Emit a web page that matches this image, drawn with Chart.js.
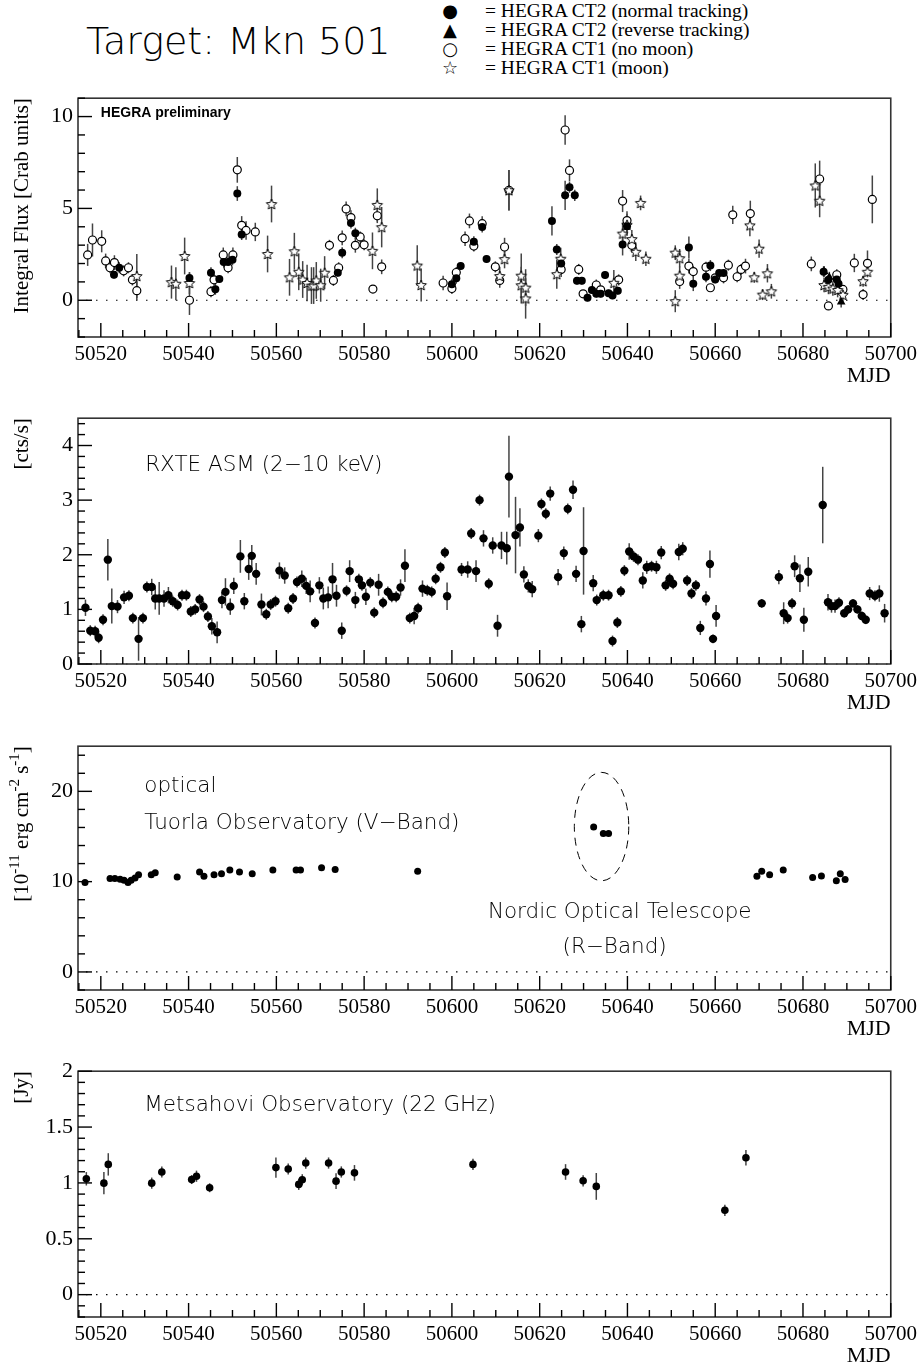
<!DOCTYPE html>
<html>
<head>
<meta charset="utf-8">
<script src="https://cdn.jsdelivr.net/npm/chart.js@4.4.1/dist/chart.umd.min.js"></script>
<style>
  body { margin: 0; background: #fff; width: 922px; height: 1364px; position: relative; overflow: hidden; }
  canvas { position: absolute; left: 0; }
  #title { position: absolute; left: 86px; top: 22px; font: 200 38px "DejaVu Sans"; line-height: 38px; white-space: nowrap; }
  .leg { position: absolute; left: 437px; font: 19.5px "Liberation Serif"; line-height: 20px; white-space: nowrap; }
  .sym { display: inline-block; width: 26px; text-align: center; margin-right: 22px; font-family: "DejaVu Sans"; font-size: 18px; }
</style>
</head>
<body>
<div id="title">Target: Mkn 501</div>
<div class="leg" style="top:1px"><span class="sym">●</span>= HEGRA CT2 (normal tracking)</div>
<div class="leg" style="top:20px"><span class="sym">▲</span>= HEGRA CT2 (reverse tracking)</div>
<div class="leg" style="top:39px"><span class="sym">○</span>= HEGRA CT1 (no moon)</div>
<div class="leg" style="top:58px"><span class="sym">☆</span>= HEGRA CT1 (moon)</div>

<canvas id="c1" width="922" height="310" style="top:80px"></canvas>
<canvas id="c2" width="922" height="315" style="top:400px"></canvas>
<canvas id="c3" width="922" height="312" style="top:728px"></canvas>
<canvas id="c4" width="922" height="311" style="top:1053px"></canvas>

<script>
// ---------- data ----------
const xTickValues = [50520, 50540, 50560, 50580, 50600, 50620, 50640, 50660, 50680, 50700];

// HEGRA CT2, normal tracking
const ct2Mjd  = [50523.0, 50524.2, 50540.2, 50545.1, 50546.1, 50547.0, 50548.0, 50549.0, 50550.0, 50551.1,
                 50552.1, 50574.0, 50575.0, 50577.0, 50578.0, 50600.0, 50601.0, 50602.0, 50605.0, 50606.9,
                 50607.9, 50622.8, 50623.9, 50624.9, 50625.8, 50626.8, 50628.0, 50628.5, 50629.6, 50630.9,
                 50631.9, 50632.9, 50633.9, 50634.9, 50635.7, 50636.6, 50637.8, 50638.9, 50639.9, 50654.0,
                 50655.0, 50657.9, 50658.9, 50660.0, 50660.9, 50661.9, 50684.7, 50685.8, 50687.7, 50688.1];
const ct2Flux = [1.39, 1.77, 1.21, 1.50, 0.60, 1.16, 2.08, 2.08, 2.20, 5.81,
                 3.58, 1.50, 2.59, 4.20, 3.65, 0.87, 1.20, 1.86, 3.19, 3.99,
                 2.24, 4.32, 2.76, 2.00, 5.71, 6.15, 5.71, 1.06, 1.06, 0.14,
                 0.56, 0.35, 0.35, 1.37, 0.38, 0.26, 0.52, 3.04, 4.03, 2.87,
                 0.90, 1.28, 1.89, 1.13, 1.49, 1.49, 1.55, 1.11, 1.13, 0.90];
const ct2Err  = [0.2, 0.3, 0.3, 0.3, 0.3, 0.2, 0.3, 0.3, 0.3, 0.4,
                 0.3, 0.2, 0.3, 0.3, 0.3, 0.3, 0.3, 0.2, 0.3, 0.3,
                 0.2, 0.8, 0.3, 0.3, 0.8, 0.3, 0.3, 0.2, 0.2, 0.2,
                 0.2, 0.2, 0.2, 0.2, 0.2, 0.2, 0.2, 0.6, 0.5, 0.6,
                 0.4, 0.3, 0.3, 0.2, 0.2, 0.2, 0.3, 0.3, 0.3, 0.3];

// HEGRA CT2, reverse tracking
const ct2rMjd  = [50684.8, 50686.0, 50688.7];
const ct2rFlux = [1.56, 1.25, -0.10];
const ct2rErr  = [0.3, 0.3, 0.3];

// HEGRA CT1, no moon
const ct1Mjd  = [50517.0, 50518.1, 50520.2, 50521.1, 50522.1, 50523.1, 50525.2, 50526.3, 50527.2, 50528.2,
                 50540.2, 50545.1, 50545.8, 50547.9, 50549.0, 50550.1, 50551.1, 50552.1, 50553.1, 50555.2,
                 50572.1, 50573.0, 50574.2, 50575.0, 50575.9, 50577.0, 50578.0, 50579.1, 50580.0, 50582.0,
                 50583.0, 50584.0, 50598.0, 50600.0, 50601.0, 50603.0, 50604.0, 50605.0, 50606.9, 50609.9,
                 50610.9, 50612.0, 50613.0, 50624.9, 50625.8, 50626.8, 50628.9, 50629.9, 50632.9, 50633.9,
                 50638.0, 50638.9, 50639.9, 50641.0, 50651.9, 50654.0, 50655.0, 50657.9, 50658.9, 50660.0,
                 50661.9, 50663.0, 50664.0, 50665.0, 50665.9, 50666.9, 50668.0, 50681.9, 50683.8, 50685.8,
                 50687.7, 50689.1, 50691.7, 50693.7, 50694.7, 50695.8];
const ct1Flux = [2.47, 3.28, 3.21, 2.14, 1.77, 2.05, 1.60, 1.77, 1.11, 0.52,
                 0.00, 0.47, 1.11, 2.47, 1.77, 2.47, 7.10, 4.08, 3.80, 3.72,
                 2.99, 1.08, 1.77, 3.40, 4.97, 4.50, 2.99, 3.45, 3.02, 0.61,
                 4.60, 1.82, 0.94, 0.64, 1.51, 3.35, 4.32, 2.95, 4.17, 1.82,
                 1.08, 2.90, 5.99, 1.67, 9.27, 7.07, 1.68, 0.35, 0.83, 0.57,
                 1.11, 5.40, 4.34, 2.99, 1.02, 1.86, 1.56, 1.80, 0.68, 1.22,
                 1.22, 1.91, 4.65, 1.28, 1.68, 1.86, 4.72, 1.98, 6.60, -0.31,
                 1.39, 0.59, 2.03, 0.31, 2.01, 5.49];
const ct1Err  = [0.6, 0.9, 0.6, 0.4, 0.3, 0.4, 0.3, 0.3, 0.3, 0.5,
                 0.8, 0.3, 0.3, 0.4, 0.3, 0.4, 0.7, 0.5, 0.5, 0.5,
                 0.3, 0.3, 0.3, 0.4, 0.4, 0.4, 0.4, 0.3, 0.3, 0.2,
                 0.4, 0.4, 0.4, 0.3, 0.3, 0.4, 0.4, 0.3, 0.4, 0.3,
                 0.4, 0.5, 1.1, 0.4, 0.8, 0.6, 0.3, 0.2, 0.3, 0.2,
                 0.3, 0.6, 0.5, 0.4, 0.4, 0.4, 0.3, 0.3, 0.2, 0.2,
                 0.3, 0.3, 0.5, 0.3, 0.3, 0.4, 0.7, 0.4, 1.0, 0.2,
                 0.3, 0.2, 0.5, 0.3, 0.7, 1.3];

// HEGRA CT1, moon
const moonMjd  = [50528.2, 50536.1, 50537.1, 50539.1, 50540.2, 50558.0, 50558.9, 50563.0, 50564.1, 50565.1,
                  50566.0, 50567.0, 50568.0, 50568.5, 50569.1, 50570.1, 50571.0, 50581.9, 50583.0, 50584.0,
                  50592.1, 50593.0, 50610.9, 50612.0, 50613.0, 50615.8, 50615.8, 50616.8, 50616.8, 50623.9,
                  50624.8, 50636.9, 50638.9, 50639.9, 50641.0, 50641.9, 50643.0, 50644.2, 50650.9, 50650.9,
                  50651.9, 50651.9, 50667.9, 50668.9, 50670.0, 50670.8, 50671.9, 50672.8, 50682.8, 50683.8,
                  50684.8, 50685.8, 50686.8, 50687.9, 50689.1, 50693.7, 50694.7];
const moonFlux = [1.32, 0.99, 0.90, 2.41, 0.94, 2.52, 5.24, 1.25, 2.67, 1.55,
                  1.13, 0.94, 0.80, 0.80, 1.08, 0.82, 1.50, 2.69, 5.19, 3.98,
                  1.89, 0.83, 1.32, 2.24, 5.99, 1.34, 0.82, 0.69, 0.10, 1.42,
                  2.26, 0.95, 3.63, 4.11, 3.33, 2.64, 5.30, 2.26, 2.59, -0.05,
                  2.29, 1.34, 4.08, 1.25, 2.81, 0.31, 1.47, 0.49, 6.25, 5.42,
                  0.83, 0.73, 0.64, 0.56, 0.30, 1.04, 1.55];
const moonErr  = [1.2, 0.9, 0.9, 1.0, 0.6, 1.0, 1.0, 1.0, 1.0, 1.0,
                  1.0, 1.0, 1.0, 1.0, 1.0, 0.9, 0.9, 1.0, 0.9, 1.1,
                  1.1, 0.9, 0.5, 0.5, 1.1, 1.2, 1.0, 1.0, 1.1, 0.8,
                  0.6, 0.7, 0.6, 0.6, 0.5, 0.5, 0.4, 0.4, 0.4, 0.6,
                  0.5, 0.5, 0.6, 0.3, 0.5, 0.3, 0.5, 0.4, 1.2, 0.9,
                  0.4, 0.4, 0.4, 0.4, 0.4, 0.3, 0.3];

// RXTE ASM 2-10 keV
const asmMjd  = [50516.5, 50517.6, 50518.7, 50519.5, 50520.5, 50521.6, 50522.5, 50523.8, 50525.3, 50526.4,
                 50527.3, 50528.6, 50529.6, 50530.5, 50531.6, 50532.4, 50533.3, 50534.4, 50535.4, 50536.4,
                 50537.5, 50538.5, 50539.5, 50540.5, 50541.5, 50542.5, 50543.4, 50544.4, 50545.3, 50546.5,
                 50547.6, 50548.4, 50549.5, 50550.3, 50551.8, 50552.7, 50553.7, 50554.4, 50555.4, 50556.6,
                 50557.7, 50558.7, 50559.8, 50560.7, 50561.9, 50562.7, 50563.8, 50564.7, 50565.8, 50566.8,
                 50567.7, 50568.8, 50569.8, 50570.7, 50571.8, 50572.8, 50573.7, 50574.9, 50576.0, 50576.7,
                 50578.0, 50578.8, 50579.5, 50580.4, 50581.4, 50582.3, 50583.3, 50584.3, 50585.4, 50586.3,
                 50587.3, 50588.3, 50589.3, 50590.4, 50591.4, 50592.3, 50593.3, 50594.4, 50595.4, 50596.3,
                 50597.4, 50598.4, 50598.9, 50602.2, 50603.6, 50604.4, 50605.5, 50606.3, 50607.2, 50608.4,
                 50609.3, 50610.4, 50611.3, 50612.5, 50613.0, 50614.5, 50615.5, 50616.4, 50617.4, 50618.3,
                 50619.7, 50620.4, 50621.4, 50622.4, 50624.2, 50625.5, 50626.4, 50627.6, 50628.3, 50629.5,
                 50630.0, 50632.2, 50633.0, 50634.5, 50635.7, 50636.6, 50637.7, 50638.5, 50639.3, 50640.4,
                 50641.4, 50642.4, 50643.5, 50644.4, 50645.5, 50646.6, 50647.7, 50648.7, 50649.6, 50650.4,
                 50651.7, 50652.6, 50653.6, 50654.6, 50655.6, 50656.6, 50657.9, 50658.8, 50659.5, 50660.2,
                 50670.6, 50674.5, 50675.6, 50676.5, 50677.5, 50678.1, 50679.3, 50680.2, 50681.2, 50684.5,
                 50685.7, 50686.5, 50687.3, 50688.2, 50689.4, 50690.3, 50691.4, 50692.4, 50693.4, 50694.3,
                 50695.2, 50696.4, 50697.4, 50698.6];
const asmRate = [1.03, 0.61, 0.60, 0.48, 0.81, 1.91, 1.06, 1.05, 1.22, 1.25,
                 0.84, 0.46, 0.84, 1.41, 1.41, 1.20, 1.20, 1.20, 1.26, 1.15,
                 1.08, 1.26, 1.26, 0.96, 1.00, 1.18, 1.05, 0.87, 0.69, 0.58,
                 1.17, 1.32, 1.05, 1.43, 1.97, 1.15, 1.74, 1.98, 1.65, 1.09,
                 0.91, 1.09, 1.15, 1.71, 1.62, 1.02, 1.20, 1.50, 1.56, 1.43,
                 1.33, 0.75, 1.44, 1.20, 1.22, 1.55, 1.25, 0.61, 1.34, 1.70,
                 1.17, 1.55, 1.44, 1.23, 1.49, 0.94, 1.45, 1.12, 1.32, 1.23,
                 1.23, 1.40, 1.80, 0.84, 0.88, 1.02, 1.38, 1.35, 1.32, 1.56,
                 1.77, 2.04, 1.24, 1.73, 1.73, 2.39, 1.70, 3.00, 2.30, 1.47,
                 2.17, 0.70, 2.17, 2.12, 3.43, 2.36, 2.50, 1.64, 1.43, 1.37,
                 2.35, 2.93, 2.75, 3.12, 1.59, 2.03, 2.84, 3.19, 1.65, 0.73,
                 2.07, 1.48, 1.17, 1.26, 1.26, 0.42, 0.76, 1.33, 1.71, 2.06,
                 1.97, 1.91, 1.53, 1.77, 1.79, 1.77, 2.04, 1.44, 1.56, 1.47,
                 2.05, 2.11, 1.53, 1.29, 1.44, 0.66, 1.20, 1.83, 0.46, 0.88,
                 1.11, 1.59, 0.93, 0.84, 1.11, 1.79, 1.57, 0.81, 1.69, 2.91,
                 1.13, 1.06, 1.06, 1.12, 0.93, 1.00, 1.11, 1.00, 0.88, 0.81,
                 1.29, 1.25, 1.29, 0.93];
const asmErr  = [0.15, 0.10, 0.10, 0.10, 0.10, 0.38, 0.32, 0.12, 0.12, 0.10,
                 0.10, 0.40, 0.10, 0.10, 0.15, 0.20, 0.30, 0.15, 0.15, 0.10,
                 0.10, 0.10, 0.10, 0.10, 0.10, 0.10, 0.10, 0.10, 0.15, 0.20,
                 0.15, 0.25, 0.15, 0.15, 0.30, 0.15, 0.20, 0.20, 0.20, 0.20,
                 0.10, 0.10, 0.10, 0.15, 0.15, 0.10, 0.10, 0.10, 0.15, 0.15,
                 0.20, 0.10, 0.15, 0.20, 0.20, 0.30, 0.20, 0.15, 0.10, 0.20,
                 0.15, 0.10, 0.10, 0.15, 0.10, 0.10, 0.20, 0.10, 0.10, 0.10,
                 0.10, 0.15, 0.30, 0.10, 0.15, 0.10, 0.15, 0.10, 0.10, 0.10,
                 0.10, 0.10, 0.25, 0.12, 0.15, 0.10, 0.20, 0.10, 0.15, 0.10,
                 0.15, 0.20, 0.25, 0.30, 0.75, 0.70, 0.35, 0.15, 0.12, 0.15,
                 0.12, 0.10, 0.10, 0.13, 0.15, 0.12, 0.10, 0.17, 0.15, 0.15,
                 0.80, 0.15, 0.10, 0.10, 0.10, 0.10, 0.10, 0.10, 0.10, 0.15,
                 0.10, 0.10, 0.15, 0.12, 0.10, 0.12, 0.12, 0.10, 0.10, 0.10,
                 0.15, 0.12, 0.10, 0.10, 0.10, 0.13, 0.13, 0.25, 0.08, 0.20,
                 0.08, 0.13, 0.20, 0.10, 0.10, 0.20, 0.25, 0.22, 0.27, 0.70,
                 0.15, 0.12, 0.12, 0.10, 0.08, 0.08, 0.08, 0.08, 0.08, 0.08,
                 0.12, 0.10, 0.15, 0.17];

// optical, Tuorla V-band
const tuorlaMjd  = [50516.4, 50522.1, 50523.2, 50524.4, 50525.3, 50526.2, 50526.9, 50527.8, 50528.6, 50531.5,
                    50532.4, 50537.4, 50542.5, 50543.5, 50545.8, 50547.5, 50549.4, 50551.6, 50554.5, 50559.2,
                    50564.5, 50565.5, 50570.3, 50573.4, 50592.2, 50669.5, 50670.6, 50672.4, 50675.5, 50682.2,
                    50684.2, 50687.6, 50688.5, 50689.6];
const tuorlaFlux = [9.91, 10.34, 10.34, 10.27, 10.16, 9.91, 10.16, 10.41, 10.77, 10.77,
                    10.99, 10.52, 11.06, 10.59, 10.77, 10.88, 11.30, 11.06, 10.88, 11.30,
                    11.30, 11.30, 11.53, 11.35, 11.14, 10.59, 11.14, 10.77, 11.30, 10.45,
                    10.63, 10.09, 10.88, 10.23];

// optical, Nordic Optical Telescope R-band
const notMjd  = [50632.3, 50634.5, 50635.7];
const notFlux = [16.04, 15.32, 15.32];
const notRing = { x: 50634.1, y: 16.1, rx: 6.2, ry: 6.0 };

// Metsahovi 22 GHz
const radioMjd = [50516.7, 50520.7, 50521.7, 50531.6, 50533.9, 50540.7, 50541.8, 50544.8, 50559.9, 50562.7,
                  50565.1, 50565.9, 50566.7, 50571.9, 50573.6, 50574.8, 50577.8, 50604.8, 50625.9, 50629.9,
                  50632.9, 50662.2, 50667.0];
const radioJy  = [1.037, 0.998, 1.166, 0.998, 1.098, 1.030, 1.060, 0.957, 1.137, 1.125,
                  0.987, 1.028, 1.178, 1.178, 1.016, 1.098, 1.090, 1.166, 1.098, 1.019,
                  0.969, 0.755, 1.225];
const radioErr = [0.06, 0.10, 0.10, 0.05, 0.05, 0.04, 0.05, 0.04, 0.09, 0.05,
                  0.05, 0.05, 0.05, 0.05, 0.07, 0.05, 0.07, 0.05, 0.07, 0.05,
                  0.12, 0.05, 0.07];

// ---------- helpers ----------
const X_MIN = 50514.8, X_MAX = 50700;
const serif = '"Liberation Serif", "Times New Roman", serif';
const sans = '"DejaVu Sans", sans-serif';

const pts = (xs, ys) => xs.map((x, i) => ({ x, y: ys[i] }));

function starImage(r) {
  const s = Math.ceil(r * 2 + 3);
  const c = document.createElement('canvas');
  c.width = c.height = s;
  const g = c.getContext('2d');
  g.translate(s / 2, s / 2 + 0.5);
  g.beginPath();
  for (let i = 0; i < 10; i++) {
    const rr = i % 2 ? r * 0.45 : r;
    const a = -Math.PI / 2 + i * Math.PI / 5;
    g.lineTo(rr * Math.cos(a), rr * Math.sin(a));
  }
  g.closePath();
  g.fillStyle = '#fff';
  g.fill();
  g.lineWidth = 1;
  g.strokeStyle = '#000';
  g.stroke();
  return c;
}
const STAR = starImage(5.5);

function filled(data, errs, r) {
  return { data, errs, pointStyle: 'circle', pointRadius: r, pointBackgroundColor: '#000', pointBorderColor: '#000', pointBorderWidth: 0 };
}

// ROOT-like frame, inner ticks, error bars, texts
function rootPlugin(p) {
  return {
    id: 'root',
    beforeDatasetsDraw(chart) {
      const { ctx, chartArea: a, scales: { y } } = chart;
      ctx.save();
      const y0 = y.getPixelForValue(0);
      ctx.setLineDash([1.5, 8.5]);
      ctx.lineWidth = 1.2;
      ctx.strokeStyle = '#000';
      ctx.beginPath(); ctx.moveTo(a.left + 8, y0); ctx.lineTo(a.right, y0); ctx.stroke();
      ctx.setLineDash([]);
      ctx.strokeStyle = '#444';
      ctx.lineWidth = 1.5;
      chart.data.datasets.forEach((ds, di) => {
        if (!ds.errs) return;
        chart.getDatasetMeta(di).data.forEach((el, i) => {
          const v = ds.data[i].y, e = ds.errs[i];
          const t = Math.max(a.top, y.getPixelForValue(v + e));
          const b = Math.min(a.bottom, y.getPixelForValue(v - e));
          ctx.beginPath(); ctx.moveTo(el.x, t); ctx.lineTo(el.x, b); ctx.stroke();
        });
      });
      if (p.ring) {
        const r = p.ring, xs = chart.scales.x;
        const cx = xs.getPixelForValue(r.x), cy = y.getPixelForValue(r.y);
        const rx = xs.getPixelForValue(r.x + r.rx) - cx, ry = cy - y.getPixelForValue(r.y + r.ry);
        ctx.setLineDash([8, 6]);
        ctx.lineWidth = 1;
        ctx.strokeStyle = '#000';
        ctx.beginPath(); ctx.ellipse(cx, cy, rx, ry, 0, 0, Math.PI * 2); ctx.stroke();
        ctx.setLineDash([]);
      }
      ctx.restore();
    },
    afterDraw(chart) {
      const { ctx, chartArea: a, scales: { x, y } } = chart;
      ctx.save();
      // frame
      ctx.strokeStyle = '#333';
      ctx.lineWidth = 1.6;
      ctx.strokeRect(a.left, a.top, a.right - a.left, a.bottom - a.top);
      // x ticks (inside, from bottom)
      ctx.strokeStyle = '#000';
      ctx.lineWidth = 1.4;
      for (let v = Math.ceil(X_MIN / 5) * 5; v <= X_MAX; v += 5) {
        const px = x.getPixelForValue(v);
        const len = v % 20 === 0 ? 14 : 7;
        ctx.beginPath(); ctx.moveTo(px, a.bottom); ctx.lineTo(px, a.bottom - len); ctx.stroke();
      }
      // y ticks (inside, from left)
      const k0 = Math.ceil(p.yMin / p.yMinor - 1e-6), k1 = Math.floor(p.yMax / p.yMinor + 1e-6);
      for (let k = k0; k <= k1; k++) {
        const v = k * p.yMinor;
        const major = p.yTicks.some(t => Math.abs(t - v) < 1e-6);
        const py = y.getPixelForValue(v);
        ctx.beginPath(); ctx.moveTo(a.left, py); ctx.lineTo(a.left + (major ? 14 : 7), py); ctx.stroke();
      }
      // MJD label
      ctx.fillStyle = '#000';
      ctx.font = '22px ' + serif;
      ctx.textAlign = 'right';
      ctx.textBaseline = 'middle';
      ctx.fillText('MJD', a.right, a.bottom + 39);
      // y title, right-adjusted to the top of the frame
      ctx.translate(p.titleX, a.top);
      ctx.rotate(-Math.PI / 2);
      ctx.textAlign = 'left';
      const mainF = '21px ' + serif, supF = '15px ' + serif;
      let total = 0;
      p.yTitle.forEach(([t, sup]) => { ctx.font = sup ? supF : mainF; total += ctx.measureText(t).width; });
      let cx = -total;
      p.yTitle.forEach(([t, sup]) => {
        ctx.font = sup ? supF : mainF;
        ctx.fillText(t, cx, sup ? -7 : 0);
        cx += ctx.measureText(t).width;
      });
      ctx.setTransform(1, 0, 0, 1, 0, 0);
      // annotations
      ctx.textAlign = 'left';
      p.notes.forEach(n => {
        ctx.font = n.font;
        ctx.fillText(n.text, x.getPixelForValue(n.x), y.getPixelForValue(n.y));
      });
      ctx.restore();
    }
  };
}

function makePanel(id, p) {
  return new Chart(document.getElementById(id), {
    type: 'scatter',
    data: { datasets: p.datasets },
    options: {
      responsive: false,
      animation: false,
      events: [],
      layout: { padding: { top: p.padTop, right: 29, bottom: 0, left: 0 } },
      plugins: { legend: { display: false }, tooltip: { enabled: false } },
      scales: {
        x: {
          type: 'linear', min: X_MIN, max: X_MAX,
          grid: { display: false, drawTicks: false }, border: { display: false },
          afterBuildTicks: s => { s.ticks = xTickValues.map(v => ({ value: v })); },
          afterFit: s => { s.height = p.axisH; },
          ticks: { padding: 5, color: '#000', autoSkip: false, maxRotation: 0,
                   font: { family: serif, size: 21 }, callback: v => String(v) }
        },
        y: {
          type: 'linear', min: p.yMin, max: p.yMax,
          grid: { display: false, drawTicks: false }, border: { display: false },
          afterBuildTicks: s => { s.ticks = p.yTicks.map(v => ({ value: v })); },
          afterFit: s => { s.width = 78; },
          ticks: { padding: 5, color: '#000', font: { family: serif, size: 22 }, callback: v => String(v) }
        }
      }
    },
    plugins: [rootPlugin(p)]
  });
}

// ---------- panels ----------
makePanel('c1', {
  padTop: 8, axisH: 53, yMin: -2, yMax: 11, yTicks: [0, 5, 10], yMinor: 1, titleX: 22,
  yTitle: [['Integral Flux [Crab units]']],
  notes: [{ text: 'HEGRA preliminary', x: 50520.0, y: 10.2, font: 'bold 14px "Liberation Sans", sans-serif' }],
  datasets: [
    { data: pts(ct2rMjd, ct2rFlux), errs: ct2rErr, pointStyle: 'triangle', pointRadius: 5,
      pointBackgroundColor: '#000', pointBorderColor: '#000', pointBorderWidth: 0 },
    filled(pts(ct2Mjd, ct2Flux), ct2Err, 4),
    { data: pts(moonMjd, moonFlux), errs: moonErr, pointStyle: STAR, pointRadius: 5 },
    { data: pts(ct1Mjd, ct1Flux), errs: ct1Err, pointStyle: 'circle', pointRadius: 4,
      pointBackgroundColor: '#fff', pointBorderColor: '#000', pointBorderWidth: 1.2 }
  ]
});

makePanel('c2', {
  padTop: 14, axisH: 51, yMin: 0, yMax: 4.5, yTicks: [0, 1, 2, 3, 4], yMinor: 0.2, titleX: 22,
  yTitle: [['[cts/s]']],
  notes: [{ text: 'RXTE ASM (2\u221210 keV)', x: 50530.1, y: 3.63, font: '200 21.5px ' + sans }],
  datasets: [filled(pts(asmMjd, asmRate), asmErr, 4.2)]
});

makePanel('c3', {
  padTop: 14, axisH: 50, yMin: -2, yMax: 25, yTicks: [0, 10, 20], yMinor: 2, titleX: 22,
  yTitle: [['[10'], ['-11', true], [' erg cm'], ['-2', true], [' s'], ['-1', true], [']']],
  ring: notRing,
  notes: [
    { text: 'optical', x: 50529.9, y: 20.6, font: '200 21.5px ' + sans },
    { text: 'Tuorla Observatory (V\u2212Band)', x: 50529.9, y: 16.5, font: '200 21.5px ' + sans },
    { text: 'Nordic Optical Telescope', x: 50608.2, y: 6.6, font: '200 21.5px ' + sans },
    { text: '(R\u2212Band)', x: 50625.2, y: 2.7, font: '200 21.5px ' + sans }
  ],
  datasets: [
    filled(pts(notMjd, notFlux), null, 3.5),
    filled(pts(tuorlaMjd, tuorlaFlux), null, 3.5)
  ]
});

makePanel('c4', {
  padTop: 14, axisH: 47, yMin: -0.2, yMax: 2, yTicks: [0, 0.5, 1, 1.5, 2], yMinor: 0.1, titleX: 22,
  yTitle: [['[Jy]']],
  notes: [{ text: 'Metsahovi Observatory (22 GHz)', x: 50529.9, y: 1.69, font: '200 21.5px ' + sans }],
  datasets: [filled(pts(radioMjd, radioJy), radioErr, 3.8)]
});
</script>
</body>
</html>
